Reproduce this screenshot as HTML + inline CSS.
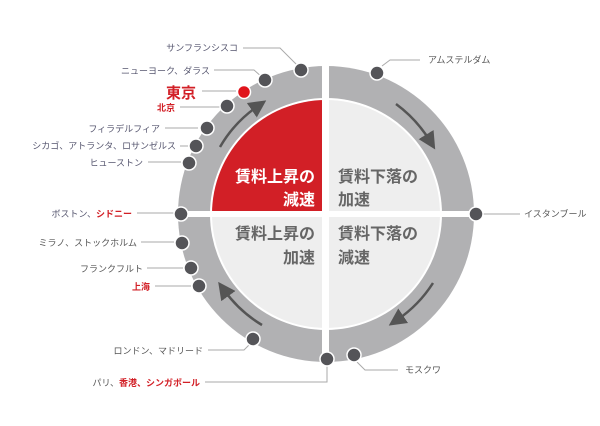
<!DOCTYPE html>
<html><head><meta charset="utf-8"><style>
html,body{margin:0;padding:0;background:#fff;}
svg{display:block;}
text{font-family:"Liberation Sans","Noto Sans CJK JP",sans-serif;}
.l{font-size:9px;fill:#55556e;}
.g{font-size:9px;fill:#555;}
.r{fill:#d21f26;}
.q{font-size:16px;fill:#666;font-weight:bold;}
.ln{stroke:#aaa;stroke-width:1;fill:none;}
.d{fill:#545458;stroke:#fff;stroke-width:1.5;}
.ar{stroke:#555;stroke-width:2.5;fill:none;}
</style></head><body>
<svg width="600" height="426" viewBox="0 0 600 426" xmlns="http://www.w3.org/2000/svg">
<circle cx="326" cy="214" r="148" fill="#b1b1b3"/>
<circle cx="326" cy="214" r="116" fill="#ffffff"/>
<circle cx="326" cy="214" r="114" fill="#eeeeee"/>
<path d="M326 214 L212 214 A114 114 0 0 1 326 100 Z" fill="#d21f26"/>
<rect x="322" y="60" width="7" height="310" fill="#fff"/>
<rect x="172" y="211" width="310" height="6" fill="#fff"/>
<defs><marker id="m" markerWidth="7" markerHeight="7" refX="3" refY="3.5" orient="auto" markerUnits="strokeWidth"><path d="M0,0 L7,3.5 L0,7 z" fill="#555"/></marker></defs>
<path class="ar" d="M220 147 A126 126 0 0 1 258 106" marker-end="url(#m)"/>
<path class="ar" d="M396 104 A130 130 0 0 1 430 141" marker-end="url(#m)"/>
<path class="ar" d="M433 283 A128 128 0 0 1 397 320" marker-end="url(#m)"/>
<path class="ar" d="M262 325 A128 128 0 0 1 224 290" marker-end="url(#m)"/>
<text x="315" y="182" class="q" style="fill:#fff" text-anchor="end">賃料上昇の</text>
<text x="315" y="205" class="q" style="fill:#fff" text-anchor="end">減速</text>
<text x="338" y="182" class="q">賃料下落の</text>
<text x="338" y="205" class="q">加速</text>
<text x="315" y="239" class="q" text-anchor="end">賃料上昇の</text>
<text x="315" y="263" class="q" text-anchor="end">加速</text>
<text x="338" y="239" class="q">賃料下落の</text>
<text x="338" y="263" class="q">減速</text>
<path class="ln" d="M243 48 L280 48 L298 66"/>
<path class="ln" d="M214 70 L254 70 L263 78"/>
<path class="ln" d="M202 91 L236 91"/>
<path class="ln" d="M180 107 L220 107"/>
<path class="ln" d="M165 128 L198 128"/>
<path class="ln" d="M180 146 L188 146"/>
<path class="ln" d="M148 162 L181 162"/>
<path class="ln" d="M137 213 L174 213"/>
<path class="ln" d="M141 242 L174 242"/>
<path class="ln" d="M147 268 L183 268"/>
<path class="ln" d="M155 286 L191 286"/>
<path class="ln" d="M208 350 L244 350 L251 343"/>
<path class="ln" d="M205 382 L327 382 L327 364"/>
<path class="ln" d="M356 361 L365 370 L398 370"/>
<path class="ln" d="M382 66 L390 60 L420 60"/>
<path class="ln" d="M482 214 L520 214"/>
<circle class="d" cx="301" cy="70" r="7"/>
<circle class="d" cx="265" cy="80" r="7"/>
<circle cx="244" cy="92" r="6.5" fill="#e0141c" stroke="#fff" stroke-width="1.5"/>
<circle class="d" cx="227" cy="106" r="7"/>
<circle class="d" cx="207" cy="128" r="7"/>
<circle class="d" cx="196" cy="146" r="7"/>
<circle class="d" cx="189" cy="163" r="7"/>
<circle class="d" cx="181" cy="214" r="7"/>
<circle class="d" cx="182" cy="243" r="7"/>
<circle class="d" cx="191" cy="268" r="7"/>
<circle class="d" cx="199" cy="286" r="7"/>
<circle class="d" cx="253" cy="339" r="7"/>
<circle class="d" cx="327" cy="359" r="7"/>
<circle class="d" cx="354" cy="355" r="7"/>
<circle class="d" cx="476" cy="214" r="7"/>
<circle class="d" cx="377" cy="73" r="7"/>
<text class="l" x="238" y="51" text-anchor="end">サンフランシスコ</text>
<text class="l" x="210" y="74" text-anchor="end">ニューヨーク、ダラス</text>
<text x="196" y="98" text-anchor="end" style="font-size:15px;font-weight:bold;fill:#d21f26">東京</text>
<text class="r" x="175" y="111" text-anchor="end" style="font-size:9px;font-weight:bold">北京</text>
<text class="l" x="160" y="132" text-anchor="end">フィラデルフィア</text>
<text class="l" x="176" y="149" text-anchor="end">シカゴ、アトランタ、ロサンゼルス</text>
<text class="l" x="143" y="166" text-anchor="end">ヒューストン</text>
<text class="l" x="132" y="217" text-anchor="end">ボストン、<tspan style="fill:#d21f26;font-weight:bold">シドニー</tspan></text>
<text class="g" x="137" y="246" text-anchor="end">ミラノ、ストックホルム</text>
<text class="g" x="143" y="272" text-anchor="end">フランクフルト</text>
<text x="150" y="290" text-anchor="end" style="font-size:9px;fill:#d21f26;font-weight:bold">上海</text>
<text class="g" x="203" y="354" text-anchor="end">ロンドン、マドリード</text>
<text class="g" x="200" y="386" text-anchor="end">パリ、<tspan style="fill:#d21f26;font-weight:bold">香港、シンガポール</tspan></text>
<text class="g" x="405" y="373">モスクワ</text>
<text class="g" x="428" y="63">アムステルダム</text>
<text class="g" x="524" y="217">イスタンブール</text>
</svg>
</body></html>
